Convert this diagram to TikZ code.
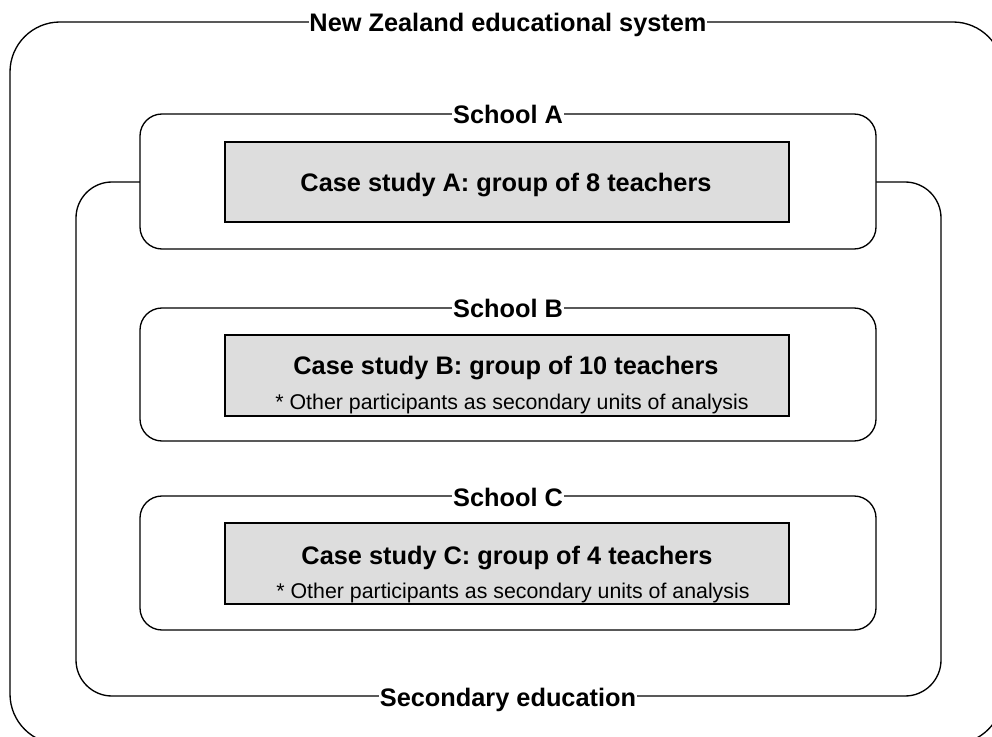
\documentclass[tikz,border=0pt]{standalone}
\usepackage{fontspec}
\setmainfont{Liberation Sans}
\definecolor{casegray}{HTML}{DDDDDD}
\tikzset{
  frame/.style={draw=black, line width=1pt},
  schoolbox/.style={frame, fill=white, rounded corners=16.5pt},
  casebox/.style={frame, fill=casegray},
  boxlabel/.style={fill=white, inner xsep=0.6pt, inner ysep=1pt, anchor=base,
    font=\fontsize{19}{22}\selectfont\bfseries},
  casetitle/.style={inner sep=0pt, anchor=base, font=\fontsize{19}{22}\selectfont\bfseries},
  casenote/.style={inner sep=0pt, anchor=base, font=\fontsize{16}{19}\selectfont}
}
\begin{document}
\begin{tikzpicture}[x=0.75pt, y=-0.75pt]
\useasboundingbox (0,0) rectangle (992,737);

% outermost frame: the national system, running past the page edge
\begin{scope}
  \clip (0,0) rectangle (992,737);
  \draw[frame, rounded corners=37.5pt] (10,22) rectangle (1003,744);
\end{scope}

% secondary education sector
\draw[frame, rounded corners=27pt] (76,182) rectangle (941,696);

% schools
\draw[schoolbox] (140,114) rectangle (876,249);
\draw[schoolbox] (140,308) rectangle (876,441);
\draw[schoolbox] (140,496) rectangle (876,630);

% case studies
\draw[casebox] (225,142) rectangle (789,222);
\draw[casebox] (225,335) rectangle (789,416);
\draw[casebox] (225,523) rectangle (789,604);

% frame labels, caps centred on the frame line
\node[boxlabel] (nzsys) at (508,32) {New Zealand educational system};
\node[boxlabel] (schA) at (508,124) {School A};
\node[boxlabel] (schB) at (508,318) {School B};
\node[boxlabel] (schC) at (508,506) {School C};
\node[boxlabel] (secedu) at (508,706) {Secondary education};

% case study texts
\node[casetitle] (caseA) at (506,192) {Case study A: group of 8 teachers};
\node[casetitle] (caseB) at (506,375) {Case study B: group of 10 teachers};
\node[casenote] (noteB) at (512,410) {* Other participants as secondary units of analysis};
\node[casetitle] (caseC) at (507,564) {Case study C: group of 4 teachers};
\node[casenote] (noteC) at (513,598) {* Other participants as secondary units of analysis};
\end{tikzpicture}
\end{document}
